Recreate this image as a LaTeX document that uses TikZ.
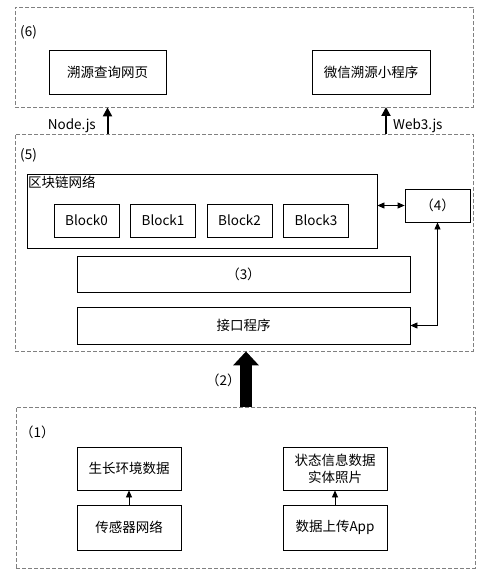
\documentclass[tikz,border=0pt]{standalone}
\usepackage{fontspec}
\setmainfont{Noto Sans CJK SC}
\usetikzlibrary{arrows.meta}
\tikzset{
  box/.style={draw, line width=0.8pt, fill=white, align=center, inner sep=0pt, font=\fontsize{13.5}{17}\selectfont},
  groupframe/.style={draw=gray, line width=0.8pt, dash pattern=on 4pt off 2pt, inner sep=0pt},
  tag/.style={anchor=west, inner sep=0pt, font=\fontsize{13.5}{17}\selectfont},
  thinarrow/.style={line width=0.8pt, -{Triangle[length=7pt,width=6pt]}},
  twoway/.style={line width=0.8pt, {Triangle[length=7pt,width=6pt]}-{Triangle[length=7pt,width=6pt]}},
  jsarrow/.style={line width=2pt, -{Triangle[length=9pt,width=9pt]}},
}
\begin{document}
\begin{tikzpicture}[x=1pt,y=-1pt]
  \useasboundingbox (0,0) rectangle (489,575);

  %Draw layer (6)
  \node[groupframe, minimum width=458pt, minimum height=100pt] (layer6) at (244,57) {};
  \node[tag] (tag6) at (20,32) {(6)};
  \node[box, minimum width=117pt, minimum height=44pt] (webpage) at (107.5,72) {溯源查询网页};
  \node[box, minimum width=118pt, minimum height=44pt] (miniapp) at (371,72) {微信溯源小程序};

  %Draw layer (5)
  \node[groupframe, minimum width=458pt, minimum height=217pt] (layer5) at (244,242.5) {};
  \node[tag] (tag5) at (20,155) {(5)};
  \node[box, minimum width=350pt, minimum height=74pt] (chain) at (202,211) {};
  \node[tag, anchor=north west] (chaintitle) at (28,176) {区块链网络};
  \foreach \i in {0,...,3}
    \node[box, minimum width=65pt, minimum height=33pt] (block\i) at (86.5+76.5*\i,220.5) {Block\i};
  \node[box, minimum width=65pt, minimum height=33pt] (oracle) at (437.5,205.5) {（4）};
  \node[box, minimum width=333pt, minimum height=36pt] (contract) at (243.5,274) {（3）};
  \node[box, minimum width=333pt, minimum height=37pt] (api) at (243.5,325.5) {接口程序};

  %Draw arrows inside layer (5)
  \draw[twoway] (chain.east |- oracle.west) -- (oracle.west);
  \draw[twoway] (oracle.south) |- (api.east);

  %Draw arrows from layer (5) up to layer (6)
  \draw[jsarrow] (layer5.north -| webpage.south) -- (layer6.south -| webpage.south);
  \draw[jsarrow] (386,134) -- (386,107);
  \node[anchor=east, inner sep=0pt, font=\fontsize{13.5}{17}\selectfont] (nodejs) at (96,126) {Node.js};
  \node[tag] (web3js) at (393,126) {Web3.js};

  %Draw layer (1)
  \node[groupframe, minimum width=459pt, minimum height=161pt] (layer1) at (245.5,487.5) {};
  \node[tag] (tag1) at (20,432) {（1）};
  \node[box, minimum width=104pt, minimum height=43pt] (envdata) at (129,468.5) {生长环境数据};
  \node[box, minimum width=104pt, minimum height=45pt] (sensor) at (129,527.5) {传感器网络};
  \node[box, minimum width=104pt, minimum height=43pt] (status) at (335,468.5) {状态信息数据\\实体照片};
  \node[box, minimum width=104pt, minimum height=45pt] (upload) at (335,527.5) {数据上传App};
  \draw[thinarrow] (sensor.north) -- (envdata.south);
  \draw[thinarrow] (upload.north) -- (status.south);

  %Draw big arrow (2) from layer (1) to layer (5)
  \draw[line width=12pt, -{Triangle[length=14pt,width=25pt]}] (layer1.north -| 246,0) -- (layer5.south -| 246,0);
  \node[tag] (tag2) at (206,380) {（2）};
\end{tikzpicture}
\end{document}
